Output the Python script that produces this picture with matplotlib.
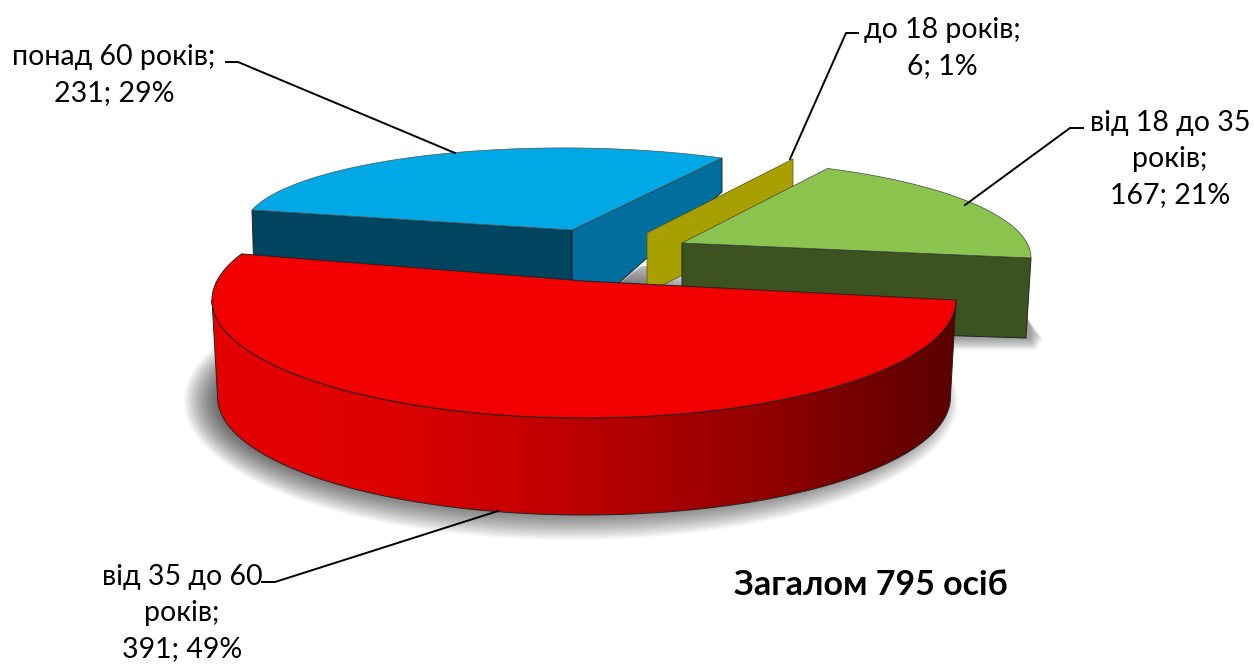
import numpy as np
import matplotlib
matplotlib.use("Agg")
import matplotlib.pyplot as plt
from matplotlib.patches import Polygon
from matplotlib.colors import LinearSegmentedColormap

plt.rcParams['font.family'] = ['Lato', 'Open Sans', 'DejaVu Sans']

# data
names = ["до 18 років;", "від 18 до 35\nроків;", "від 35 до 60\nроків;", "понад 60 років;"]
values = [6, 167, 391, 231]
percents = [1, 21, 49, 29]
total_label = "Загалом 795 осіб"

TOP = ['#a8a000', '#8ac44f', '#f20000', '#00a8e6']
SIDE = ['#a8a000', '#3c5220', None, '#006f9e']
FRONT = [None, None, None, '#00445f']
BLUE_START = 62.6  # angle where the clockwise sweep begins

fig = plt.figure(figsize=(12.54, 6.66), dpi=100, facecolor='white')
ax = fig.add_axes([0, 0, 1, 1])
ax.set_xlim(0, 1254)
ax.set_ylim(666, 0)
ax.axis('off')

# wedge angles from the values
fractions = np.array(values) / np.sum(values)
edges = BLUE_START - 360 * np.concatenate([[0], np.cumsum(fractions)])
edges = np.radians(edges)


def affine_rim(apex, p1, t1, p2, t2, n=80):
    """Elliptic arc about apex through two corners at angles t1 and t2."""
    A = np.array([[np.cos(t1), np.sin(t1)], [np.cos(t2), np.sin(t2)]])
    apex = np.asarray(apex, float)
    b = np.array([np.asarray(p1) - apex, np.asarray(p2) - apex])
    M = np.linalg.solve(A, b)
    t = np.linspace(t1, t2, n)
    return apex + np.outer(np.cos(t), M[0]) + np.outer(np.sin(t), M[1])


def persp_rim(e1, e2, center, a, b, stretch, end_deg, n=240):
    """Rim of a wedge: perspective widens the swept angle about its end."""
    t = np.linspace(e1 - e2, 0, n) * stretch + np.radians(end_deg)
    return np.column_stack([center[0] + a * np.cos(t), center[1] - b * np.sin(t)])


RED_C = (584.0, 300.0)
RED_A, RED_B = 372.0, 118.0
WALL_D = 97.0


def bottom(pts):
    out = pts.copy()
    out[:, 0] = RED_C[0] + (out[:, 0] - RED_C[0]) * 0.985
    out[:, 1] = out[:, 1] + WALL_D
    return out


EDGE = dict(edgecolor='#222222', linewidth=0.7)

# soft shadows
t_full = np.linspace(0, 2 * np.pi, 240)
shadow_base = np.column_stack([RED_C[0] + RED_A * 0.985 * np.cos(t_full),
                               RED_C[1] + WALL_D - RED_B * np.sin(t_full)])
n_layers = 30
for k in range(n_layers):
    d = 21 - 42 * k / (n_layers - 1)
    pts = shadow_base.copy()
    pts[:, 0] = RED_C[0] - 13 + (pts[:, 0] - RED_C[0]) * (1 + d / RED_A)
    pts[:, 1] = RED_C[1] + WALL_D + 4 + (pts[:, 1] - RED_C[1] - WALL_D) * (1 + d / RED_B)
    ax.add_patch(Polygon(pts, closed=True, facecolor='black', alpha=0.03,
                         edgecolor='none', zorder=1))

for k in range(12):
    d = 12 - k
    ax.add_patch(Polygon([(940, 326), (1027, 318), (1030 + d * 1.1, 330 + d * 0.8),
                          (1030 + d * 0.4, 338 + d), (940, 338 + d)],
                         closed=True, facecolor='black', alpha=0.035,
                         edgecolor='none', zorder=1))
ax.add_patch(Polygon([(618, 285), (642, 266), (650, 266), (650, 285)], closed=True,
                     facecolor='black', alpha=0.2, edgecolor='none', zorder=1))

# blue wedge
b_apex = np.array([572.0, 230.0])
b_right = np.array([722.0, 158.0])
b_left = np.array([252.0, 210.0])
b_rim = affine_rim(b_apex, b_left, edges[3], b_right, edges[0] - 2 * np.pi)
ax.add_patch(Polygon([b_apex, b_apex + [0, 94], b_left + [3, 94], b_left], closed=True,
                     facecolor=FRONT[3], zorder=3, **EDGE))
ax.add_patch(Polygon([b_apex, b_right, b_right + [0, 34], b_apex + [0, 94]], closed=True,
                     facecolor=SIDE[3], zorder=3, **EDGE))
ax.add_patch(Polygon(np.vstack([[b_apex], b_rim]), closed=True,
                     facecolor=TOP[3], zorder=3.1, edgecolor='#555555', linewidth=0.5))

# yellow wedge
y_apex = np.array([647.0, 233.0])
y_corner = np.array([793.0, 159.0])
ax.add_patch(Polygon([y_apex, y_corner, y_corner + [0, 60], y_apex + [0, 60]], closed=True,
                     facecolor=SIDE[0], edgecolor='#55500a', linewidth=0.5, zorder=3.5))

# green wedge
g_apex = np.array([682.0, 243.0])
g_stretch = 66.0 / np.degrees(edges[1] - edges[2])
g_rim = persp_rim(edges[1], edges[2], (688.0, 258.0), 343.0, 98.0, g_stretch, 0.0)
g_right = g_rim[-1]
ax.add_patch(Polygon([g_apex, g_right, g_right + [-5, 80], g_apex + [0, 84]], closed=True,
                     facecolor=SIDE[1], zorder=4, **EDGE))
ax.add_patch(Polygon(np.vstack([[g_apex], g_rim]), closed=True,
                     facecolor=TOP[1], zorder=4.1, edgecolor='#444444', linewidth=0.5))

# red wedge
red_stretch = 203.0 / np.degrees(edges[2] - edges[3])
r_rim = persp_rim(edges[3], edges[2], RED_C, RED_A, RED_B, red_stretch, 0.0)
r_t2 = np.radians(np.linspace(180.0, 360.0, 240))
r_front = np.column_stack([RED_C[0] + RED_A * np.cos(r_t2), RED_C[1] - RED_B * np.sin(r_t2)])
r_wall = np.vstack([r_front, bottom(r_front)[::-1]])
r_apex = np.array([584.0, 281.0])
red_cmap = LinearSegmentedColormap.from_list(
    'redwall', ['#e60000', '#dc0000', '#bb0000', '#900000', '#5a0000'])
grad = np.linspace(0, 1, 512)[None, :]
im = ax.imshow(grad, cmap=red_cmap, extent=(212, 956, 666, 0), aspect='auto', zorder=5,
               interpolation='bilinear')
wall_patch = Polygon(r_wall, closed=True, facecolor='none', zorder=5.1, **EDGE)
ax.add_patch(wall_patch)
im.set_clip_path(wall_patch)
ax.add_patch(Polygon(np.vstack([[r_apex], r_rim]), closed=True,
                     facecolor=TOP[2], zorder=5.2, **EDGE))

ax.set_xlim(0, 1254)
ax.set_ylim(666, 0)

# leader lines
LINE = dict(color='black', linewidth=1.4, zorder=6, solid_joinstyle='miter')
ax.plot([858, 846, 790], [33, 33, 159], **LINE)
ax.plot([1083, 1070, 965], [128, 128, 205], **LINE)
ax.plot([262, 275, 498], [582, 582, 511], **LINE)
ax.plot([226, 238, 455], [62, 62, 153], **LINE)

# labels
FS = 20.5
label_pos = [(942, 48), (1170, 159), (182, 613), (114, 75)]
for name, val, pct, (lx, ly) in zip(names, values, percents, label_pos):
    ax.text(lx, ly, f"{name}\n{val}; {pct}%", ha='center', va='center', fontsize=FS,
            color='black', linespacing=1.5, zorder=7)
ax.text(871, 585, total_label, ha='center', va='center', fontsize=24.5,
        fontweight='bold', color='black', zorder=7)

fig.savefig('out.png', dpi=100, facecolor='white')
